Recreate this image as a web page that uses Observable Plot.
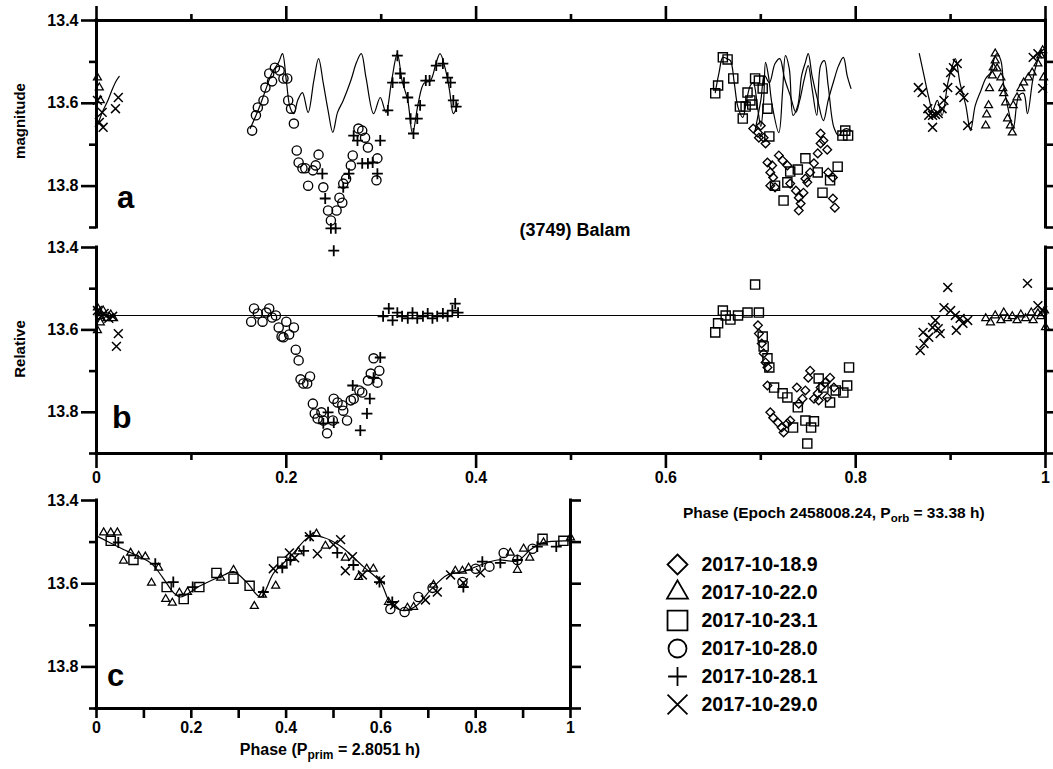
<!DOCTYPE html>
<html><head><meta charset="utf-8">
<script src="https://cdn.jsdelivr.net/npm/d3@7"></script>
<script src="https://cdn.jsdelivr.net/npm/@observablehq/plot@0.6"></script>
<style>
body{margin:0;background:#fff;}
#root{position:relative;width:1053px;height:769px;overflow:hidden;background:#fff;}
</style></head><body><div id="root"></div>
<script>
// ---------- scales / ticks ----------
const phaseDomain = [0, 1];
const magDomain = [13.4, 13.9];
const magMajor = [13.4, 13.6, 13.8];
const magMinor = [13.5, 13.7, 13.9];
const magAll = [13.4, 13.5, 13.6, 13.7, 13.8, 13.9];
const phaseMajor = [0, 0.2, 0.4, 0.6, 0.8, 1];
const phaseMinor = [0.1, 0.3, 0.5, 0.7, 0.9];
const refLevel = 13.565;
const seriesNames = ["2017-10-18.9", "2017-10-22.0", "2017-10-23.1", "2017-10-28.0", "2017-10-28.1", "2017-10-29.0"];

// ---------- panel a: observed magnitudes [phase, mag] ----------
const aDiamond = [[0.692,13.661],[0.697,13.671],[0.700,13.654],[0.698,13.683],[0.703,13.683],[0.705,13.697],[0.707,13.743],[0.712,13.750],[0.719,13.726],[0.723,13.738],[0.728,13.750],[0.710,13.767],[0.713,13.779],[0.710,13.799],[0.715,13.803],[0.731,13.794],[0.737,13.811],[0.740,13.828],[0.742,13.842],[0.740,13.859],[0.745,13.816],[0.749,13.791],[0.752,13.767],[0.756,13.745],[0.760,13.721],[0.763,13.697],[0.763,13.673],[0.766,13.690],[0.770,13.712],[0.771,13.767],[0.776,13.779],[0.776,13.830],[0.778,13.852],[0.747,13.782]];
const aTriangle = [[0.001,13.538],[0.003,13.562],[0.004,13.593],[0.937,13.654],[0.938,13.627],[0.940,13.605],[0.941,13.564],[0.944,13.533],[0.945,13.514],[0.947,13.497],[0.947,13.480],[0.949,13.516],[0.953,13.538],[0.955,13.564],[0.956,13.576],[0.958,13.598],[0.960,13.637],[0.963,13.654],[0.965,13.671],[0.966,13.605],[0.970,13.586],[0.974,13.564],[0.977,13.550],[0.982,13.538],[0.986,13.526],[0.992,13.504],[0.995,13.485],[0.997,13.472],[0.998,13.538]];
const aSquare = [[0.652,13.576],[0.655,13.557],[0.660,13.489],[0.665,13.494],[0.671,13.540],[0.678,13.608],[0.684,13.608],[0.681,13.637],[0.686,13.574],[0.689,13.593],[0.691,13.603],[0.694,13.540],[0.698,13.545],[0.702,13.564],[0.707,13.613],[0.709,13.680],[0.715,13.799],[0.724,13.835],[0.728,13.791],[0.731,13.765],[0.739,13.760],[0.747,13.733],[0.760,13.767],[0.765,13.816],[0.773,13.786],[0.781,13.753],[0.786,13.678],[0.789,13.666],[0.792,13.678]];
const aCircle = [[0.164,13.666],[0.168,13.629],[0.170,13.610],[0.176,13.593],[0.178,13.562],[0.182,13.528],[0.185,13.547],[0.188,13.514],[0.193,13.521],[0.197,13.540],[0.201,13.540],[0.202,13.593],[0.205,13.613],[0.208,13.649],[0.211,13.714],[0.213,13.743],[0.217,13.757],[0.220,13.757],[0.223,13.799],[0.228,13.762],[0.231,13.750],[0.234,13.724],[0.239,13.803],[0.244,13.859],[0.247,13.883],[0.253,13.859],[0.256,13.828],[0.259,13.840],[0.260,13.794],[0.263,13.782],[0.268,13.750],[0.270,13.726],[0.276,13.661],[0.280,13.666],[0.283,13.683],[0.286,13.707],[0.296,13.733],[0.295,13.786]];
const aPlus = [[0.238,13.770],[0.241,13.830],[0.247,13.902],[0.252,13.902],[0.250,13.956],[0.260,13.803],[0.266,13.770],[0.271,13.678],[0.275,13.690],[0.280,13.745],[0.286,13.745],[0.291,13.743],[0.296,13.770],[0.299,13.690],[0.307,13.617],[0.312,13.550],[0.317,13.485],[0.320,13.528],[0.324,13.550],[0.328,13.586],[0.331,13.637],[0.334,13.673],[0.338,13.637],[0.341,13.605],[0.347,13.545],[0.351,13.545],[0.358,13.509],[0.365,13.504],[0.370,13.538],[0.373,13.550],[0.376,13.593],[0.379,13.608]];
const aTimes = [[0.866,13.562],[0.870,13.574],[0.876,13.613],[0.877,13.629],[0.881,13.629],[0.884,13.627],[0.887,13.625],[0.881,13.658],[0.891,13.613],[0.893,13.593],[0.897,13.562],[0.900,13.526],[0.903,13.514],[0.907,13.504],[0.910,13.569],[0.914,13.586],[0.918,13.654],[0.987,13.489],[0.992,13.480],[0.997,13.564],[0.001,13.593],[0.003,13.646],[0.007,13.658],[0.020,13.613],[0.023,13.586],[0.006,13.622]];

// panel a: primary-period model curves
const aModel0 = [[0.001,13.654],[0.006,13.622],[0.012,13.593],[0.017,13.564],[0.021,13.545],[0.024,13.535]];
const aModel1 = [[0.162,13.661],[0.171,13.613],[0.178,13.569],[0.185,13.526],[0.192,13.501],[0.196,13.480],[0.200,13.545],[0.204,13.610],[0.208,13.625],[0.212,13.593],[0.217,13.574],[0.223,13.622],[0.229,13.545],[0.234,13.492],[0.239,13.552],[0.244,13.617],[0.249,13.670],[0.254,13.622],[0.260,13.593],[0.268,13.545],[0.274,13.501],[0.279,13.480],[0.284,13.538],[0.292,13.625],[0.299,13.586],[0.305,13.622],[0.311,13.545],[0.317,13.480],[0.322,13.545],[0.328,13.593],[0.333,13.673],[0.339,13.600],[0.345,13.552],[0.352,13.545],[0.358,13.501],[0.362,13.480],[0.368,13.521],[0.372,13.569],[0.376,13.625],[0.381,13.600]];
const aModel2 = [[0.652,13.574],[0.656,13.526],[0.660,13.489],[0.664,13.492],[0.668,13.497],[0.672,13.550],[0.676,13.610],[0.681,13.634],[0.685,13.593],[0.689,13.557],[0.692,13.550],[0.697,13.617],[0.700,13.656],[0.703,13.593],[0.705,13.501],[0.708,13.533],[0.712,13.605],[0.719,13.671],[0.723,13.569],[0.726,13.485],[0.730,13.516],[0.734,13.629],[0.739,13.605],[0.743,13.533],[0.747,13.501],[0.750,13.480],[0.754,13.533],[0.760,13.593],[0.766,13.642],[0.771,13.593],[0.777,13.545],[0.782,13.509],[0.787,13.489],[0.791,13.533],[0.795,13.564]];
const aModel3 = [[0.694,13.666],[0.700,13.593],[0.704,13.533],[0.709,13.550],[0.715,13.504],[0.720,13.492],[0.725,13.540],[0.731,13.581],[0.737,13.622],[0.741,13.593],[0.746,13.540],[0.750,13.509],[0.754,13.564],[0.759,13.629],[0.763,13.509],[0.767,13.497],[0.771,13.557],[0.777,13.658],[0.782,13.678],[0.786,13.666],[0.790,13.661],[0.795,13.666]];
const aModel4 = [[0.867,13.480],[0.872,13.533],[0.877,13.586],[0.881,13.617],[0.886,13.593],[0.891,13.629],[0.897,13.552],[0.901,13.516],[0.905,13.492],[0.910,13.552],[0.916,13.605],[0.921,13.666],[0.926,13.605],[0.932,13.569],[0.937,13.540],[0.942,13.526],[0.946,13.492],[0.949,13.480],[0.953,13.497],[0.956,13.557],[0.961,13.617],[0.966,13.661],[0.972,13.581],[0.977,13.576],[0.981,13.625],[0.987,13.538],[0.993,13.489],[0.997,13.472],[1.000,13.468]];

// ---------- panel b: relative (primary removed) [phase, mag] ----------
const bDiamond = [[0.697,13.589],[0.698,13.609],[0.701,13.633],[0.703,13.657],[0.705,13.679],[0.707,13.691],[0.707,13.735],[0.710,13.800],[0.713,13.813],[0.718,13.825],[0.722,13.837],[0.724,13.849],[0.728,13.827],[0.731,13.820],[0.738,13.740],[0.740,13.779],[0.744,13.767],[0.747,13.747],[0.750,13.716],[0.752,13.699],[0.756,13.767],[0.760,13.754],[0.763,13.740],[0.768,13.728],[0.773,13.716],[0.777,13.740],[0.770,13.764],[0.761,13.771]];
const bTriangle = [[0.001,13.546],[0.003,13.560],[0.004,13.567],[0.007,13.553],[0.011,13.572],[0.015,13.563],[0.018,13.572],[0.001,13.601],[0.004,13.582],[0.937,13.572],[0.942,13.582],[0.947,13.565],[0.953,13.577],[0.956,13.558],[0.960,13.572],[0.965,13.567],[0.970,13.577],[0.974,13.563],[0.979,13.572],[0.985,13.558],[0.987,13.577],[0.992,13.560],[0.995,13.567],[0.999,13.553],[1.000,13.594]];
const bSquare = [[0.652,13.606],[0.655,13.584],[0.660,13.553],[0.663,13.565],[0.668,13.575],[0.676,13.565],[0.686,13.558],[0.694,13.490],[0.698,13.558],[0.702,13.616],[0.703,13.640],[0.707,13.669],[0.709,13.691],[0.714,13.740],[0.723,13.754],[0.728,13.764],[0.734,13.837],[0.739,13.788],[0.747,13.820],[0.749,13.876],[0.753,13.837],[0.756,13.822],[0.761,13.718],[0.766,13.740],[0.773,13.776],[0.779,13.747],[0.787,13.752],[0.791,13.735],[0.793,13.691]];
const bCircle = [[0.163,13.580],[0.166,13.548],[0.170,13.560],[0.175,13.580],[0.179,13.558],[0.182,13.548],[0.185,13.570],[0.189,13.565],[0.192,13.594],[0.195,13.616],[0.197,13.618],[0.200,13.580],[0.203,13.611],[0.208,13.594],[0.210,13.648],[0.213,13.674],[0.215,13.720],[0.218,13.730],[0.222,13.730],[0.225,13.713],[0.228,13.779],[0.230,13.803],[0.233,13.815],[0.237,13.800],[0.239,13.820],[0.243,13.851],[0.249,13.820],[0.250,13.767],[0.254,13.776],[0.259,13.783],[0.260,13.796],[0.264,13.820],[0.268,13.771],[0.271,13.767],[0.277,13.747],[0.280,13.752],[0.286,13.723],[0.289,13.706],[0.292,13.669],[0.296,13.728],[0.298,13.699]];
const bPlus = [[0.239,13.827],[0.244,13.800],[0.250,13.825],[0.270,13.735],[0.278,13.844],[0.285,13.803],[0.288,13.767],[0.292,13.716],[0.299,13.667],[0.302,13.567],[0.308,13.548],[0.312,13.577],[0.317,13.558],[0.322,13.567],[0.328,13.572],[0.333,13.558],[0.338,13.572],[0.344,13.567],[0.349,13.560],[0.354,13.572],[0.359,13.567],[0.365,13.560],[0.370,13.567],[0.375,13.553],[0.378,13.536],[0.381,13.558]];
const bTimes = [[0.001,13.553],[0.005,13.567],[0.008,13.560],[0.013,13.572],[0.017,13.567],[0.023,13.609],[0.021,13.640],[0.868,13.650],[0.872,13.633],[0.871,13.606],[0.877,13.618],[0.881,13.594],[0.884,13.577],[0.887,13.597],[0.889,13.609],[0.893,13.546],[0.897,13.497],[0.900,13.553],[0.905,13.565],[0.906,13.601],[0.910,13.572],[0.913,13.584],[0.918,13.577],[0.981,13.487],[0.992,13.541],[0.997,13.553]];

// ---------- panel c: folded with primary period [phase, mag] ----------
const cTriangle = [[0.015,13.477],[0.030,13.477],[0.044,13.477],[0.057,13.545],[0.072,13.526],[0.089,13.533],[0.103,13.535],[0.131,13.562],[0.116,13.598],[0.146,13.637],[0.160,13.646],[0.175,13.622],[0.192,13.620],[0.262,13.586],[0.289,13.567],[0.333,13.654],[0.350,13.627],[0.378,13.605],[0.426,13.523],[0.464,13.480],[0.483,13.509],[0.525,13.538],[0.553,13.584],[0.570,13.564],[0.584,13.564],[0.616,13.644],[0.656,13.658],[0.669,13.656],[0.711,13.603],[0.757,13.569],[0.772,13.569],[0.785,13.562],[0.873,13.526],[0.888,13.567],[0.901,13.516],[0.914,13.538],[0.943,13.501],[1.000,13.489]];
const cSquare = [[0.030,13.497],[0.078,13.543],[0.148,13.608],[0.184,13.637],[0.217,13.608],[0.253,13.574],[0.289,13.588],[0.323,13.605],[0.392,13.547],[0.941,13.492],[0.985,13.497]];
const cCircle = [[0.620,13.661],[0.650,13.668],[0.679,13.632],[0.709,13.610],[0.772,13.596],[0.800,13.564],[0.829,13.559],[0.859,13.526],[0.888,13.543],[0.920,13.516]];
const cPlus = [[0.046,13.501],[0.124,13.552],[0.162,13.596],[0.203,13.608],[0.352,13.620],[0.392,13.562],[0.409,13.543],[0.437,13.521],[0.451,13.485],[0.508,13.526],[0.542,13.555],[0.597,13.596],[0.624,13.644],[0.774,13.608],[0.814,13.547],[0.852,13.550],[0.888,13.543],[0.930,13.511],[0.970,13.511]];
const cTimes = [[0.373,13.564],[0.407,13.526],[0.418,13.538],[0.449,13.487],[0.466,13.528],[0.500,13.506],[0.515,13.494],[0.540,13.535],[0.525,13.569],[0.561,13.579],[0.599,13.591],[0.629,13.651],[0.694,13.639],[0.719,13.620],[0.747,13.579],[0.774,13.598],[0.810,13.574]];
const cFit = [[0.000,13.485],[0.057,13.518],[0.114,13.550],[0.139,13.584],[0.163,13.622],[0.177,13.632],[0.219,13.605],[0.269,13.579],[0.289,13.571],[0.318,13.598],[0.346,13.632],[0.374,13.574],[0.409,13.535],[0.451,13.486],[0.479,13.489],[0.515,13.510],[0.563,13.559],[0.599,13.596],[0.620,13.646],[0.648,13.665],[0.677,13.651],[0.705,13.615],[0.740,13.579],[0.774,13.571],[0.810,13.555],[0.846,13.543],[0.888,13.545],[0.916,13.518],[0.943,13.501],[1.000,13.497]];

// ---------- styling ----------
const FONT = "'Liberation Sans', Arial, Helvetica, sans-serif";
const symbolStyle = {
  "2017-10-18.9": {symbol: "diamond2", r: 3.9, rl: 9, sw: 1.35},
  "2017-10-22.0": {symbol: "triangle2", r: 3.8, rl: 10, sw: 1.25},
  "2017-10-23.1": {symbol: "square2", r: 5.8, rl: 12.7, sw: 1.4},
  "2017-10-28.0": {symbol: "circle", r: 4.6, rl: 9, sw: 1.35},
  "2017-10-28.1": {symbol: "plus", r: 3.6, rl: 6.1, sw: 1.8},
  "2017-10-29.0": {symbol: "times", r: 4.1, rl: 9.1, sw: 1.5}
};
const toPts = arr => arr.map(([phase, mag]) => ({phase, mag}));
const fmtPhase = d => String(Math.round(d * 10) / 10);
const fmtMag = d => d.toFixed(1);

function dots(list) {
  return list.map(([name, arr]) => {
    const s = symbolStyle[name];
    return Plot.dot(toPts(arr), {x: "phase", y: "mag", symbol: s.symbol, r: s.r, stroke: "black", fill: "none", strokeWidth: s.sw});
  });
}
function lines(list, curve) {
  return list.map(arr => Plot.line(toPts(arr), {x: "phase", y: "mag", curve, stroke: "black", strokeWidth: 1.2}));
}
const base = {
  x: {domain: phaseDomain, label: null},
  y: {domain: magDomain, reverse: true, label: null},
  style: {background: "transparent", overflow: "visible", fontFamily: FONT, fontWeight: "bold", color: "black"}
};
const AX = {strokeWidth: 2.6, label: null, stroke: "black"};

const root = document.getElementById("root");
function place(node, left, top) {
  node.style.position = "absolute";
  node.style.left = left + "px";
  node.style.top = top + "px";
  node.style.maxWidth = "none";
  root.appendChild(node);
}

// ---------- panel a ----------
const plotA = Plot.plot({
  ...base, width: 1053, height: 237, marginLeft: 96, marginRight: 8, marginTop: 20, marginBottom: 10,
  marks: [
    ...lines([aModel0, aModel1, aModel2, aModel3, aModel4], "catmull-rom"),
    ...dots([[seriesNames[0], aDiamond], [seriesNames[1], aTriangle], [seriesNames[2], aSquare], [seriesNames[3], aCircle], [seriesNames[4], aPlus], [seriesNames[5], aTimes]]),
    Plot.axisY(magMajor, {...AX, anchor: "left", tickSize: 15, tickPadding: 3, fontSize: 16, tickFormat: fmtMag, fill: "black"}),
    Plot.axisY(magMinor, {...AX, anchor: "left", tickSize: 7, fill: "none"}),
    Plot.axisY(magAll.slice(1), {...AX, anchor: "right", tickSize: 8, fill: "none"}),
    Plot.axisX(phaseMajor, {...AX, anchor: "top", tickSize: 15, fill: "none"}),
    Plot.axisX(phaseMinor, {...AX, anchor: "top", tickSize: 7, fill: "none"}),
    Plot.ruleX(phaseDomain, {y1: magDomain[0], y2: magDomain[1], strokeWidth: 3, strokeLinecap: "square"}),
    Plot.ruleY([magDomain[0]], {x1: phaseDomain[0], x2: phaseDomain[1], strokeWidth: 3, strokeLinecap: "square"})
  ]
});
place(plotA, 0, 0);

// ---------- panel b ----------
const plotB = Plot.plot({
  ...base, width: 1053, height: 246, marginLeft: 96, marginRight: 8, marginTop: 10, marginBottom: 30,
  marks: [
    Plot.ruleY([refLevel], {x1: phaseDomain[0], x2: phaseDomain[1], stroke: "black", strokeWidth: 1.2}),
    ...dots([[seriesNames[0], bDiamond], [seriesNames[1], bTriangle], [seriesNames[2], bSquare], [seriesNames[3], bCircle], [seriesNames[4], bPlus], [seriesNames[5], bTimes]]),
    Plot.axisY(magMajor, {...AX, anchor: "left", tickSize: 15, tickPadding: 3, fontSize: 16, tickFormat: fmtMag, fill: "black"}),
    Plot.axisY(magMinor, {...AX, anchor: "left", tickSize: 7, fill: "none"}),
    Plot.axisY(magAll, {...AX, anchor: "right", tickSize: 7, fill: "none"}),
    Plot.axisX(phaseMajor, {...AX, anchor: "bottom", tickSize: 15, tickPadding: 3, fontSize: 16, tickFormat: fmtPhase, fill: "black"}),
    Plot.axisX(phaseMinor, {...AX, anchor: "bottom", tickSize: 7, fill: "none"}),
    Plot.ruleX(phaseDomain, {y1: magDomain[0], y2: magDomain[1], strokeWidth: 3, strokeLinecap: "square"}),
    Plot.ruleY([magDomain[1]], {x1: phaseDomain[0], x2: phaseDomain[1], strokeWidth: 3, strokeLinecap: "square"})
  ]
});
place(plotB, 0, 237);

// ---------- panel c ----------
const plotC = Plot.plot({
  ...base, width: 600, height: 288, marginLeft: 96, marginRight: 30, marginTop: 20, marginBottom: 60,
  marks: [
    ...lines([cFit], "catmull-rom"),
    ...dots([[seriesNames[1], cTriangle], [seriesNames[2], cSquare], [seriesNames[3], cCircle], [seriesNames[4], cPlus], [seriesNames[5], cTimes]]),
    Plot.axisY(magMajor, {...AX, anchor: "left", tickSize: 15, tickPadding: 3, fontSize: 16, tickFormat: fmtMag, fill: "black"}),
    Plot.axisY(magMinor, {...AX, anchor: "left", tickSize: 7, fill: "none"}),
    Plot.axisY(magAll, {...AX, anchor: "right", tickSize: 10, fill: "none"}),
    Plot.axisX(phaseMajor, {...AX, anchor: "bottom", tickSize: 10, tickPadding: 3, fontSize: 16, tickFormat: fmtPhase, fill: "black"}),
    Plot.axisX(phaseMinor, {...AX, anchor: "bottom", tickSize: 10, fill: "none"}),
    Plot.ruleX(phaseDomain, {y1: magDomain[0], y2: magDomain[1], strokeWidth: 3, strokeLinecap: "square"}),
    Plot.ruleY([magDomain[1]], {x1: phaseDomain[0], x2: phaseDomain[1], strokeWidth: 3, strokeLinecap: "square"})
  ]
});
place(plotC, 0, 480);

// ---------- legend ----------
const legendRows = seriesNames.map(name => ({name}));
const plotD = Plot.plot({
  width: 220, height: 171, marginLeft: 27, marginRight: 0, marginTop: 15, marginBottom: 15,
  y: {type: "point", domain: seriesNames, padding: 0, axis: null},
  style: {background: "transparent", overflow: "visible", fontFamily: FONT, fontWeight: "bold", color: "black"},
  marks: [
    ...seriesNames.map(name => {
      const s = symbolStyle[name];
      return Plot.dot(legendRows.filter(d => d.name === name), {y: "name", frameAnchor: "left", symbol: s.symbol, r: s.rl, stroke: "black", fill: "none", strokeWidth: 1.8});
    }),
    Plot.text(legendRows, {y: "name", text: "name", frameAnchor: "left", textAnchor: "start", dx: 24, fontSize: 19.5, fill: "black"})
  ]
});
place(plotD, 650, 548);

// ---------- annotations ----------
const NS = "http://www.w3.org/2000/svg";
const ov = document.createElementNS(NS, "svg");
ov.setAttribute("width", 1053); ov.setAttribute("height", 769);
ov.style.position = "absolute"; ov.style.left = "0px"; ov.style.top = "0px";
ov.style.fontFamily = FONT; ov.style.fontWeight = "bold"; ov.style.pointerEvents = "none";
function addText(parts, attrs) {
  const t = document.createElementNS(NS, "text");
  for (const k in attrs) t.setAttribute(k, attrs[k]);
  for (const p of parts) {
    const s = document.createElementNS(NS, "tspan");
    s.textContent = p.text;
    if (p.size) s.setAttribute("font-size", p.size);
    if (p.dy) s.setAttribute("dy", p.dy);
    t.appendChild(s);
  }
  ov.appendChild(t);
}
addText([{text: "magnitude"}], {transform: "translate(25,121) rotate(-90)", "text-anchor": "middle", "font-size": 15});
addText([{text: "Relative"}], {transform: "translate(25,349) rotate(-90)", "text-anchor": "middle", "font-size": 15});
addText([{text: "a"}], {x: 117, y: 208, "font-size": 31});
addText([{text: "b"}], {x: 112, y: 428, "font-size": 32});
addText([{text: "c"}], {x: 107, y: 686, "font-size": 31});
addText([{text: "(3749) Balam"}], {x: 575, y: 236, "text-anchor": "middle", "font-size": 18});
addText([{text: "Phase (Epoch 2458008.24, P"}, {text: "orb", size: 11.5, dy: 4}, {text: " = 33.38 h)", dy: -4}], {x: 683, y: 518, "font-size": 15.5});
addText([{text: "Phase (P"}, {text: "prim", size: 12, dy: 4}, {text: " = 2.8051 h)", dy: -4}], {x: 330, y: 755, "text-anchor": "middle", "font-size": 16});
root.appendChild(ov);
</script>
</body></html>
